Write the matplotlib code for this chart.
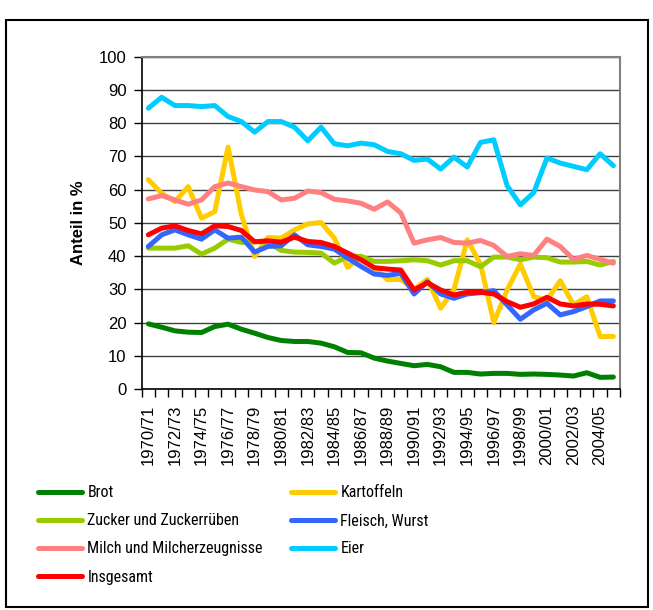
import matplotlib
matplotlib.use('Agg')
import matplotlib.pyplot as plt
from matplotlib.patches import Rectangle
from matplotlib.ticker import FixedLocator

plt.rcParams['font.family'] = ['Liberation Sans', 'DejaVu Sans']

# Wirtschaftsjahre 1970/71 .. 2005/06
jahre = ['%d/%02d' % (y, (y + 1) % 100) for y in range(1970, 2006)]

brot = [19.6, 18.6, 17.5, 17.1, 17.0, 18.8, 19.5, 18.0, 16.8, 15.5, 14.6, 14.3,
        14.3, 13.8, 12.7, 11.0, 10.9, 9.3, 8.4, 7.7, 7.0, 7.4, 6.7, 5.0,
        5.0, 4.5, 4.7, 4.7, 4.4, 4.5, 4.4, 4.2, 3.9, 4.9, 3.5, 3.6]
kartoffeln = [63.0, 58.9, 56.4, 60.9, 51.4, 53.4, 72.8, 52.5, 39.9, 45.6, 45.4, 47.9,
              49.7, 50.1, 45.4, 36.6, 40.0, 36.5, 32.9, 33.0, 30.0, 33.0, 24.3, 29.9,
              44.9, 37.6, 20.0, 29.8, 37.6, 27.8, 26.7, 32.6, 25.3, 27.8, 15.8, 15.8]
zucker = [42.4, 42.4, 42.4, 43.1, 40.6, 42.4, 45.1, 44.1, 44.4, 44.1, 41.7, 41.2,
          41.1, 40.9, 37.9, 39.9, 39.9, 38.4, 38.4, 38.6, 38.9, 38.6, 37.3, 38.6,
          38.6, 36.8, 39.7, 39.7, 38.9, 39.7, 39.5, 38.2, 38.2, 38.4, 37.3, 38.4]
fleisch = [42.9, 46.4, 47.9, 46.4, 45.1, 47.9, 45.4, 45.7, 41.2, 42.9, 43.1, 46.4,
           43.4, 42.9, 42.1, 39.4, 36.9, 34.6, 34.2, 34.8, 28.6, 32.3, 28.6, 27.3,
           28.6, 29.0, 29.6, 25.3, 21.0, 23.8, 25.8, 22.3, 23.3, 24.8, 26.5, 26.5]
milch = [57.2, 58.2, 56.9, 55.6, 56.9, 60.9, 62.0, 60.9, 59.9, 59.4, 56.9, 57.4,
         59.6, 59.1, 57.1, 56.6, 55.9, 54.1, 56.3, 53.0, 43.9, 44.9, 45.6, 44.1,
         43.9, 44.7, 43.2, 39.9, 40.7, 40.2, 45.1, 42.9, 39.0, 40.2, 39.0, 37.9]
eier = [84.5, 87.8, 85.3, 85.3, 85.0, 85.3, 82.0, 80.5, 77.3, 80.5, 80.5, 78.8,
        74.7, 78.8, 73.8, 73.2, 74.0, 73.5, 71.5, 70.8, 68.8, 69.2, 66.2, 69.8,
        66.8, 74.2, 75.0, 61.2, 55.4, 59.1, 69.5, 68.0, 67.0, 66.0, 70.8, 67.2]
insgesamt = [46.4, 48.4, 49.1, 47.7, 46.7, 49.1, 48.9, 47.7, 44.3, 44.6, 44.2, 45.7,
             44.4, 44.1, 42.9, 40.9, 38.9, 36.5, 36.1, 35.8, 29.8, 32.0, 29.8, 28.3,
             29.1, 29.1, 28.6, 26.3, 24.6, 25.6, 27.6, 25.6, 25.0, 25.6, 25.5, 25.0]

serien = [
    ('Brot', brot, '#008000'),
    ('Kartoffeln', kartoffeln, '#FFCC00'),
    ('Zucker und Zuckerrüben', zucker, '#99CC00'),
    ('Fleisch, Wurst', fleisch, '#3366FF'),
    ('Milch und Milcherzeugnisse', milch, '#FF8080'),
    ('Eier', eier, '#00CCFF'),
    ('Insgesamt', insgesamt, '#FF0000'),
]

fig = plt.figure(figsize=(6.53, 6.10), dpi=100)
ax = fig.add_axes([0.217, 0.3623, 0.7325, 0.5447])

x = list(range(len(jahre)))
lines = {}
for name, vals, col in serien:
    l, = ax.plot(x, vals, color=col, lw=3.6, solid_capstyle='round',
                 solid_joinstyle='round', label=name)
    lines[name] = l

ax.set_xlim(-0.5, len(jahre) - 0.5)
ax.set_ylim(0, 100)
ax.set_yticks(range(0, 101, 10))
ax.yaxis.grid(True, color='#404040', lw=1.0)
ax.set_axisbelow(True)

ax.set_xticks(x[::2])
ax.set_xticklabels(jahre[::2], rotation=90, fontsize=12)
ax.xaxis.set_minor_locator(FixedLocator([i - 0.5 for i in range(len(jahre) + 1)]))
ax.tick_params(axis='x', which='major', length=0, pad=11)
ax.tick_params(axis='x', which='minor', length=6, width=1, direction='out')
ax.tick_params(axis='y', length=6, width=1, direction='out', labelsize=12, pad=5)

for s in ['top', 'right']:
    ax.spines[s].set_color('#808080')
    ax.spines[s].set_linewidth(1.5)
ax.spines['left'].set_linewidth(1.2)
ax.spines['bottom'].set_linewidth(1.2)

ax.set_ylabel('Anteil in %', fontsize=12, fontweight='bold', labelpad=9)

order = ['Brot', 'Zucker und Zuckerrüben', 'Milch und Milcherzeugnisse', 'Insgesamt',
         'Kartoffeln', 'Fleisch, Wurst', 'Eier']
fig.legend([lines[n] for n in order], order, ncol=2, loc='upper left',
           bbox_to_anchor=(0.036, 0.228), frameon=False,
           prop={'family': ['Roboto Condensed', 'Liberation Sans'], 'size': 11.5},
           handlelength=2.75, handletextpad=0.35, columnspacing=1.75, labelspacing=0.82)

fig.add_artist(Rectangle((6 / 653, 3 / 610), 642 / 653, 587 / 610,
                         transform=fig.transFigure, fill=False, ec='black', lw=1.5))

fig.savefig('out.png', dpi=100)
